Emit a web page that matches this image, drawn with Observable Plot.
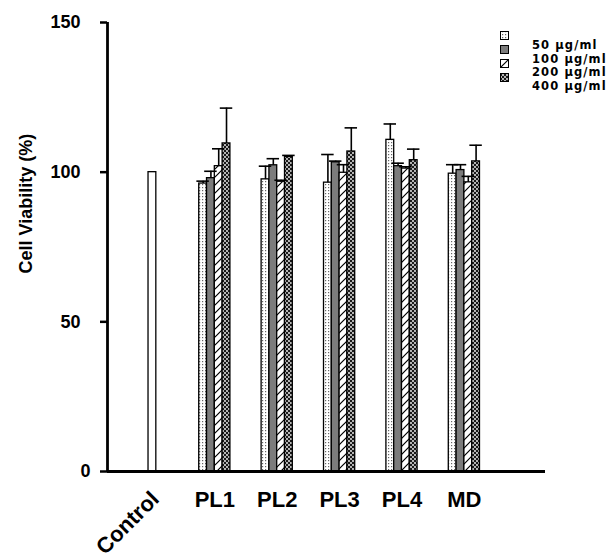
<!DOCTYPE html>
<html><head><meta charset="utf-8">
<script src="https://cdn.jsdelivr.net/npm/d3@7"></script>
<script src="https://cdn.jsdelivr.net/npm/@observablehq/plot@0.6"></script>
<style>
body{margin:0;background:#fff;}
#wrap{position:relative;width:614px;height:555px;}
#legend{position:absolute;left:0;top:0;}
</style></head><body>
<svg width="0" height="0" style="position:absolute">
<defs>
<pattern id="p50" width="3" height="3" patternUnits="userSpaceOnUse"><rect width="3" height="3" fill="#fff"/><rect x="1" y="1" width="1.2" height="1.2" fill="#666"/></pattern>
<pattern id="p100" width="4" height="4" patternUnits="userSpaceOnUse"><rect width="4" height="4" fill="#7c7c7c"/></pattern>
<pattern id="p200" width="8" height="8" patternUnits="userSpaceOnUse"><rect width="8" height="8" fill="#fff"/><path d="M-2,2L2,-2M0,8L8,0M6,10L10,6" stroke="#000" stroke-width="1.2"/></pattern>
<pattern id="p400" width="4" height="4" patternUnits="userSpaceOnUse"><rect width="4" height="4" fill="#1a1a1a"/><circle cx="1" cy="1" r="0.9" fill="#fff"/><circle cx="3" cy="3" r="0.9" fill="#fff"/></pattern>
</defs></svg>
<div id="wrap"></div>
<script>
// categories and series
const categories = ["Control", "PL1", "PL2", "PL3", "PL4", "MD"];
const groups = ["PL1", "PL2", "PL3", "PL4", "MD"];
const doses = ["50 \u00b5g/ml", "100 \u00b5g/ml", "200 \u00b5g/ml", "400 \u00b5g/ml"];
const controlValue = 100;
// mean cell viability (%) per dose, in group order PL1..MD
const mean50  = [96.2, 97.6, 96.5, 110.8, 99.5];
const mean100 = [98.0, 102.3, 103.3, 102.0, 100.7];
const mean200 = [102.0, 96.8, 99.8, 101.2, 96.6];
const mean400 = [109.6, 105.1, 106.9, 104.0, 103.6];
// upper error (SD)
const err50  = [0.8, 4.4, 9.4, 5.3, 3.0];
const err100 = [2.3, 2.2, 0.4, 1.0, 1.8];
const err200 = [5.8, 0.5, 2.7, 0.6, 2.0];
const err400 = [11.8, 0.5, 7.9, 3.7, 5.4];
const yTicks = [0, 50, 100, 150];
const patterns = ["url(#p50)", "url(#p100)", "url(#p200)", "url(#p400)"];

const means = [mean50, mean100, mean200, mean400];
const errs = [err50, err100, err200, err400];
const barW = 1 / 8;
const rows = [];
groups.forEach((g, j) => doses.forEach((d, di) => {
  const gi = categories.indexOf(g);
  const x1 = gi + (di - 2) * barW;
  rows.push({cat: g, dose: d, di, value: means[di][j], err: errs[di][j], x1, x2: x1 + barW, cx: x1 + barW / 2});
}));
const control = [{cat: "Control", value: controlValue, x1: -barW / 2, x2: barW / 2}];
const xDomain = [-0.72, 6.3];

const chart = Plot.plot({
  width: 614, height: 555,
  marginLeft: 107, marginRight: 69, marginTop: 22, marginBottom: 84,
  x: {domain: xDomain},
  y: {domain: [0, 150]},
  style: {fontFamily: "'Liberation Sans', Arial, sans-serif", fontWeight: "bold", background: "white", color: "black", overflow: "visible"},
  marks: [
    ...doses.map((d, di) => Plot.rect(rows.filter(r => r.di === di), {x1: "x1", x2: "x2", y1: () => 0, y2: "value", fill: patterns[di], stroke: "black", strokeWidth: 1.3})),
    Plot.rect(control, {x1: "x1", x2: "x2", y1: () => 0, y2: "value", fill: "white", stroke: "black", strokeWidth: 1.3}),
    Plot.ruleX(rows, {x: "cx", y1: "value", y2: r => r.value + r.err, strokeWidth: 1.6}),
    Plot.ruleY(rows, {y: r => r.value + r.err, x1: r => r.cx - 0.1, x2: r => r.cx + 0.1, strokeWidth: 1.6}),
    Plot.ruleX([xDomain[0]], {strokeWidth: 2.8}),
    Plot.ruleY([0], {strokeWidth: 2.8}),
    Plot.axisY({ticks: yTicks.slice(1), tickSize: 7, tickPadding: 20, fontSize: 18, strokeWidth: 2.5, label: null}),
    Plot.axisY({ticks: yTicks.slice(0, 1), tickSize: 7, tickPadding: 10, fontSize: 18, strokeWidth: 2.5, label: null}),
    Plot.axisX({ticks: groups.map(g => categories.indexOf(g)), tickFormat: i => categories[i], tickSize: 0, tickPadding: 20, fontSize: 22, label: null}),
    Plot.text([categories[0]], {x: d => categories.indexOf(d), y: () => 0, text: d => d, rotate: -45, textAnchor: "end", dx: 3, dy: 24, fontSize: 22}),
    Plot.text(["Cell Viability (%)"], {frameAnchor: "left", text: d => d, rotate: -90, dx: -81, dy: 26.5, fontSize: 18})
  ]
});
document.getElementById("wrap").appendChild(chart);

// legend
const leg = d3.select("#wrap").append("svg").attr("id", "legend").attr("width", 614).attr("height", 110);
doses.forEach((d, i) => {
  leg.append("rect").attr("x", 500.5).attr("y", 31.5 + i * 14).attr("width", 8).attr("height", 8)
    .attr("fill", patterns[i]).attr("stroke", "black").attr("stroke-width", 1);
  leg.append("text").attr("x", 532).attr("y", 49 + i * 13.6).text(d)
    .attr("font-family", "'DejaVu Sans', sans-serif").attr("font-weight", "bold").attr("font-size", 11.5)
    .attr("letter-spacing", 1.1).attr("fill", "black");
});
</script>
</body></html>
